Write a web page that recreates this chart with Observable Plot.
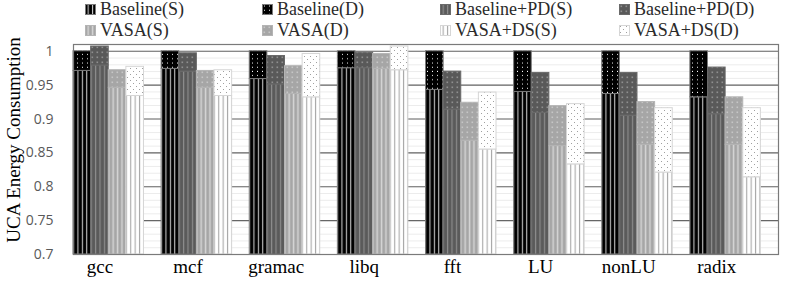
<!DOCTYPE html>
<html><head><meta charset="utf-8">
<script src="https://cdn.jsdelivr.net/npm/d3@7"></script>
<script src="https://cdn.jsdelivr.net/npm/@observablehq/plot@0.6"></script>
<style>
body{margin:0;background:#fff;}
#wrap{position:relative;width:789px;height:282px;overflow:hidden;background:#fff;}
#legend{position:absolute;left:0;top:0;width:789px;height:40px;font-family:"Liberation Serif","Times New Roman",serif;font-size:18px;color:#2a2a2a;}
.item{position:absolute;display:flex;align-items:center;height:20px;line-height:20px;white-space:nowrap;}
.item svg{margin-right:4px;}
#chart{position:absolute;left:0;top:40px;}
#ylabel{position:absolute;left:14px;top:140px;transform:translate(-50%,-50%) rotate(-90deg);white-space:nowrap;
  font-family:"Liberation Serif","Times New Roman",serif;font-size:19px;line-height:20px;color:#000;}
</style></head><body>
<svg width="0" height="0" style="position:absolute"><defs id="defs"></defs></svg>
<div id="wrap"><div id="legend"></div><div id="chart"></div><div id="ylabel"></div></div>
<script>
const categories = ["gcc","mcf","gramac","libq","fft","LU","nonLU","radix"];
const seriesNames = ["Baseline","Baseline+PD","VASA","VASA+DS"];
const baselineS   = [0.971,0.974,0.959,0.975,0.943,0.940,0.937,0.932];
const baselineD   = [0.029,0.026,0.041,0.025,0.057,0.060,0.063,0.068];
const baselinePdS = [0.979,0.970,0.951,0.975,0.914,0.909,0.905,0.907];
const baselinePdD = [0.028,0.027,0.042,0.023,0.056,0.059,0.063,0.069];
const vasaS       = [0.946,0.946,0.937,0.974,0.868,0.860,0.862,0.862];
const vasaD       = [0.026,0.025,0.041,0.022,0.056,0.059,0.063,0.070];
const vasaDsS     = [0.934,0.934,0.932,0.972,0.855,0.833,0.821,0.814];
const vasaDsD     = [0.043,0.038,0.064,0.035,0.084,0.089,0.095,0.102];
const yTicks = [0.7,0.75,0.8,0.85,0.9,0.95,1];
const yLabel = "UCA Energy Consumption";
const legendLabels = ["Baseline(S)","Baseline(D)","Baseline+PD(S)","Baseline+PD(D)","VASA(S)","VASA(D)","VASA+DS(S)","VASA+DS(D)"];

const sValues = [baselineS, baselinePdS, vasaS, vasaDsS];
const dValues = [baselineD, baselinePdD, vasaD, vasaDsD];

// patterns
const defs = d3.select("#defs");
function pattern(id, w, h, bg, draw) {
  const p = defs.append("pattern").attr("id", id).attr("patternUnits", "userSpaceOnUse")
    .attr("width", w).attr("height", h);
  p.append("rect").attr("width", w).attr("height", h).attr("fill", bg);
  draw(p);
}
const stripe = (c, x, w) => p => p.append("rect").attr("x", x).attr("y", 0).attr("width", w).attr("height", 10).attr("fill", c);
const dots = (c, s, pts) => p => pts.forEach(([x, y]) => p.append("rect").attr("x", x).attr("y", y).attr("width", s).attr("height", s).attr("fill", c));
pattern("s0", 4.4, 10, "#000", stripe("#c8c8c8", 2.6, 1.1));
pattern("s1", 4.4, 10, "#5a5a5a", stripe("#8c8c8c", 2.6, 1.2));
pattern("s2", 4.4, 10, "#a6a6a6", stripe("#d4d4d4", 2.4, 1.5));
pattern("s3", 4.4, 10, "#ffffff", stripe("#a8a8a8", 2.6, 1.1));
pattern("d0", 5, 4.2, "#000", dots("#ffffff", 1, [[2, 1.5]]));
pattern("d1", 5, 5, "#595959", dots("#8f8f8f", 1.6, [[1.5, 1.5]]));
pattern("d2", 5, 5, "#a6a6a6", dots("#c6c6c6", 1.6, [[1.5, 1.5]]));
pattern("d3", 6, 6, "#ffffff", dots("#a0a0a0", 1, [[1, 1], [4, 4]]));
const strokes = ["#7a7a7a", "#6a6a6a", "#b4b4b4", "#d6d6d6"];

// rows
const rows = [];
seriesNames.forEach((s, si) => categories.forEach((c, ci) => rows.push({series: s, si, cat: c, ci, s: sValues[si][ci], d: dValues[si][ci]})));

const minorTicks = d3.range(70, 101).map(v => v / 100);

const barMarks = seriesNames.flatMap((name, si) => {
  const data = rows.filter(r => r.si === si);
  return [
    Plot.rectY(data, {x1: r => r.ci * 5 + r.si, x2: r => r.ci * 5 + r.si + 1, y1: yTicks[0], y2: r => r.s,
      fill: `url(#s${si})`, stroke: strokes[si], strokeWidth: 1}),
    Plot.rectY(data, {x1: r => r.ci * 5 + r.si, x2: r => r.ci * 5 + r.si + 1, y1: r => r.s, y2: r => r.s + r.d,
      fill: `url(#d${si})`, stroke: strokes[si], strokeWidth: 1})
  ];
});

const chart = Plot.plot({
  width: 789, height: 242,
  marginTop: 4, marginBottom: 28, marginLeft: 73, marginRight: 11,
  x: {domain: [0, categories.length * 5], axis: null},
  y: {domain: [0.7, 1.01], axis: null},
  style: {background: "#fff"},
  marks: [
    Plot.ruleY(minorTicks, {stroke: "#ececec", strokeWidth: 1}),
    Plot.ruleY(yTicks.slice(1), {stroke: "#666", strokeWidth: 1.2}),
    ...barMarks,
    Plot.frame({stroke: "#7a7a7a", strokeWidth: 1.2}),
    Plot.axisY({ticks: yTicks, tickFormat: v => String(+v.toFixed(2)), tickSize: 0, tickPadding: 20,
      fontSize: 14, fontFamily: "'Liberation Sans Narrow','Open Sans',sans-serif", fill: "#595959", label: null}),
    Plot.axisX({ticks: categories.map((c, i) => i * 5 + 1.5), tickFormat: v => categories[Math.round((v - 1.5) / 5)],
      tickSize: 0, tickPadding: 5, fontSize: 19, fontFamily: "'Liberation Serif','Times New Roman',serif", fill: "#000", label: null})
  ]
});
document.getElementById("chart").appendChild(chart);
document.getElementById("ylabel").textContent = yLabel;

// legend
const legendCols = [85, 262, 440, 619];
const legendRows = [-1, 20];
const legend = d3.select("#legend");
legendLabels.forEach((lab, i) => {
  const si = Math.floor(i / 2);
  const part = i % 2;
  const row = si < 2 ? 0 : 1;
  const col = (si % 2) * 2 + part;
  const item = legend.append("div").attr("class", "item")
    .style("left", legendCols[col] + "px").style("top", legendRows[row] + "px");
  const sw = item.append("svg").attr("width", 11).attr("height", 11);
  sw.append("rect").attr("x", 0.5).attr("y", 0.5).attr("width", 10).attr("height", 10)
    .attr("fill", `url(#${part ? "d" : "s"}${si})`).attr("stroke", strokes[si]).attr("stroke-width", 1);
  item.append("span").text(lab);
});
</script>
</body></html>
